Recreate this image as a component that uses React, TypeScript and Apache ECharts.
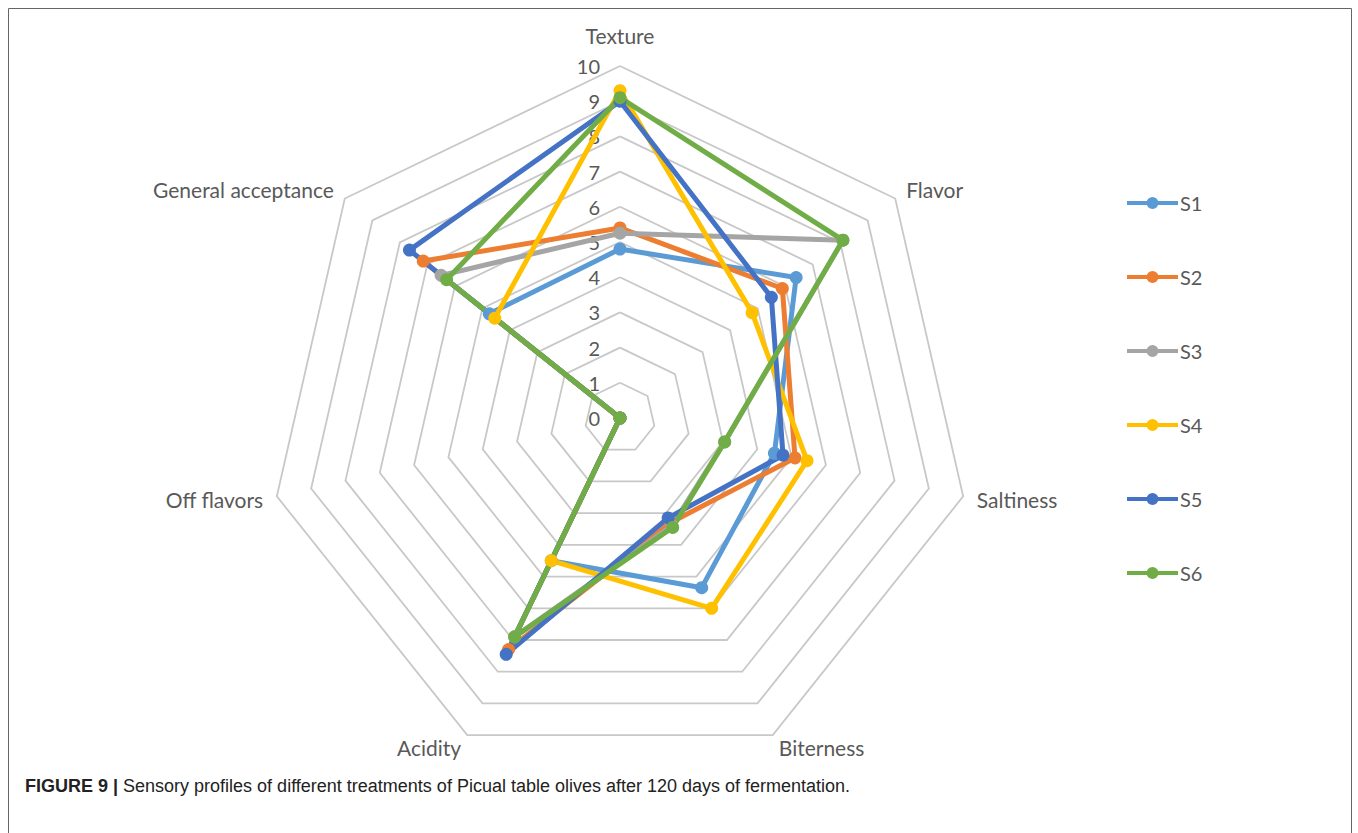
import React, { useEffect, useRef } from "react";
import * as echarts from "echarts";

const indicatorNames = ["Texture", "Flavor", "Saltiness", "Biterness", "Acidity", "Off flavors", "General acceptance"];
const seriesNames = ["S1", "S2", "S3", "S4", "S5", "S6"];
const s1 = [4.8, 6.4, 4.5, 5.35, 4.5, 0, 4.75];
const s2 = [5.4, 5.9, 5.1, 3.3, 7.3, 0, 7.15];
const s3 = [5.25, 8.1, 3.05, 3.4, 6.9, 0, 6.5];
const s4 = [9.3, 4.8, 5.45, 6.0, 4.5, 0, 4.55];
const s5 = [9.0, 5.5, 4.75, 3.15, 7.45, 0, 7.65];
const s6 = [9.1, 8.1, 3.05, 3.45, 6.9, 0, 6.3];
const colors = ["#5B9BD5", "#ED7D31", "#A5A5A5", "#FFC000", "#4472C4", "#70AD47"];
const axisMax = 10;
const caption = "Sensory profiles of different treatments of Picual table olives after 120 days of fermentation.";

// ECharts lays radar indicators out counter-clockwise; the reference goes clockwise.
const order = [0, 6, 5, 4, 3, 2, 1];

const legendIcon = "path://M0,4H51V8H0Z M19.5,6A6,6 0 1 1 31.5,6A6,6 0 1 1 19.5,6Z";

export default function App() {
  const ref = useRef<HTMLDivElement>(null);
  useEffect(() => {
    if (!ref.current) return;
    const chart = echarts.init(ref.current, null, { renderer: "svg" });
    const all = [s1, s2, s3, s4, s5, s6];
    const textColor = "#595959";
    const font = "Lato";
    chart.setOption({
      animation: false,
      backgroundColor: "#ffffff",
      legend: {
        orient: "vertical",
        left: 1127,
        top: 193,
        padding: 0,
        itemWidth: 51,
        itemHeight: 12,
        itemGap: 54,
        data: seriesNames.map((n) => ({ name: n, icon: legendIcon })),
        textStyle: { color: textColor, fontSize: 20, fontFamily: font, lineHeight: 20, padding: [0, 0, 0, -3] },
      },
      radar: {
        center: [620, 418],
        radius: 352,
        startAngle: 90,
        shape: "polygon",
        splitNumber: 10,
        nameGap: 14,
        axisName: { color: textColor, fontSize: 21, fontFamily: font },
        axisLine: { show: false },
        axisTick: { show: false },
        axisLabel: { show: false },
        splitArea: { show: false },
        splitLine: { lineStyle: { color: "#c8c8c8", width: 1.8 } },
        indicator: order.map((i) => ({
          name: indicatorNames[i],
          min: 0,
          max: axisMax,
          ...(i === 0
            ? {
                nameGap: 20,
                axisLabel: { show: true, color: textColor, fontSize: 20, fontFamily: font, margin: 20 },
              }
            : {}),
        })),
      },
      series: seriesNames.map((name, k) => ({
        type: "radar",
        name,
        symbol: "circle",
        symbolSize: 13,
        color: colors[k],
        lineStyle: { width: 5, color: colors[k] },
        itemStyle: { color: colors[k] },
        data: [{ name, value: order.map((i) => all[k][i]) }],
      })),
      graphic: [
        {
          type: "rect",
          shape: { x: 8.5, y: 8.5, width: 1343, height: 900 },
          style: { fill: "none", stroke: "#666", lineWidth: 1 },
          silent: true,
        },
        {
          type: "text",
          x: 25,
          y: 786,
          style: {
            text: "{b|FIGURE 9 |} " + caption,
            fontFamily: "Liberation Sans Narrow, Liberation Sans",
            fontSize: 18,
            fill: "#222",
            verticalAlign: "middle",
            rich: { b: { fontWeight: "bold", fontFamily: "Liberation Sans Narrow, Liberation Sans", fontSize: 18, fill: "#222" } },
          },
        },
      ],
    });
    return () => chart.dispose();
  }, []);
  return <div ref={ref} style={{ position: "fixed", left: 0, top: 0, width: 1358, height: 833 }} />;
}
